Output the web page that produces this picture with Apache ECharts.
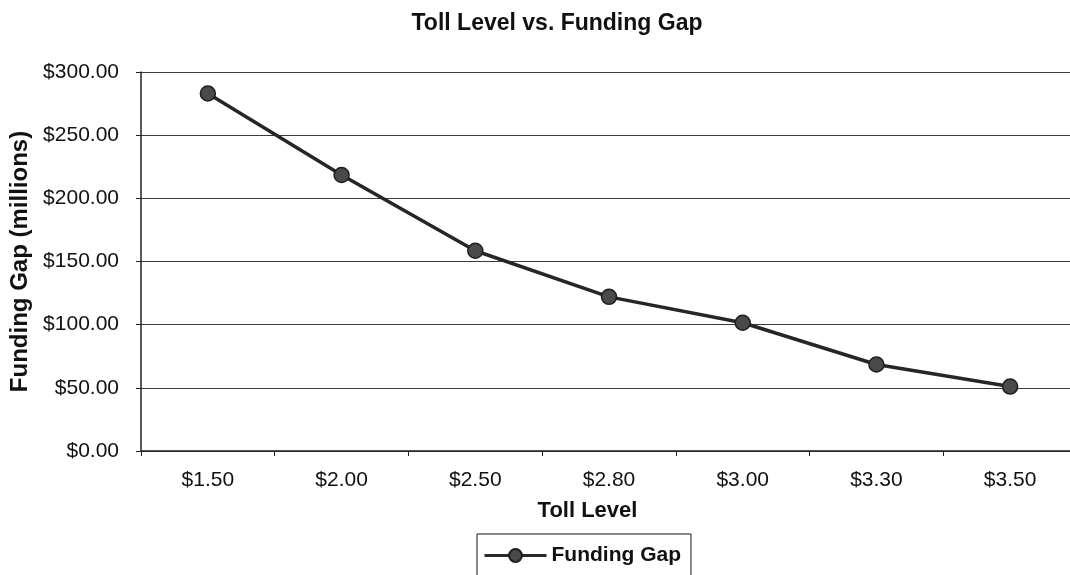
<!DOCTYPE html>
<html>
<head>
<meta charset="utf-8">
<title>Toll Level vs. Funding Gap</title>
<script src="https://cdn.jsdelivr.net/npm/echarts@6/dist/echarts.min.js"></script>
<style>
  html, body { margin: 0; padding: 0; background: #fff; }
  #chart { width: 1070px; height: 575px; }
</style>
</head>
<body>
<div id="chart"></div>
<script>
// Toll levels (category axis)
const tollLevels = ['$1.50', '$2.00', '$2.50', '$2.80', '$3.00', '$3.30', '$3.50'];
// Funding gap in millions of dollars at each toll level
const fundingGap = [283, 218.5, 158.5, 122, 101.5, 68.5, 51];
// Value axis range
const yMin = 0, yMax = 300, yStep = 50;

const FONT = '"Liberation Sans", Arial, Helvetica, sans-serif';

const chart = echarts.init(document.getElementById('chart'), null, { renderer: 'canvas' });

chart.setOption({
  animation: false,
  backgroundColor: '#ffffff',
  title: {
    text: 'Toll Level vs. Funding Gap',
    left: 552,
    textAlign: 'center',
    top: 7,
    textStyle: { fontFamily: FONT, fontSize: 23, fontWeight: 'bold', color: '#111' }
  },
  legend: {
    data: ['Funding Gap'],
    left: 477,
    top: 534,
    orient: 'horizontal',
    padding: [11, 10, 14, 6],
    borderColor: '#111',
    borderWidth: 1,
    itemWidth: 62,
    itemHeight: 16,
    lineStyle: { width: 3, color: '#2a2a2a' },
    textStyle: { fontFamily: FONT, fontSize: 21, fontWeight: 'bold', color: '#111' }
  },
  grid: { left: 141, top: 72, width: 936, height: 379, containLabel: false, outerBoundsMode: 'none' },
  xAxis: {
    type: 'category',
    data: tollLevels,
    boundaryGap: true,
    name: 'Toll Level',
    nameLocation: 'middle',
    nameGap: 49,
    nameTextStyle: { fontFamily: FONT, fontSize: 22, fontWeight: 'bold', color: '#111', padding: [0, 43, 0, 0] },
    axisLine: { show: true, lineStyle: { color: '#222', width: 1.5 } },
    axisTick: { show: true, alignWithLabel: false, length: 5, interval: 0, lineStyle: { color: '#222', width: 1 } },
    axisLabel: { fontFamily: FONT, fontSize: 21, color: '#111', margin: 19, interval: 0 },
    splitLine: { show: false }
  },
  yAxis: {
    type: 'value',
    min: yMin,
    max: yMax,
    interval: yStep,
    name: 'Funding Gap (millions)',
    nameLocation: 'middle',
    nameGap: 109,
    nameRotate: 90,
    nameTextStyle: { fontFamily: FONT, fontSize: 24, fontWeight: 'bold', color: '#111' },
    axisLine: { show: true, lineStyle: { color: '#222', width: 1.5 } },
    axisTick: { show: true, length: 5, lineStyle: { color: '#222', width: 1 } },
    axisLabel: {
      fontFamily: FONT, fontSize: 21, color: '#111', margin: 22,
      formatter: v => '$' + v.toFixed(2)
    },
    splitLine: { show: true, lineStyle: { color: '#3a3a3a', width: 1.2 } }
  },
  series: [{
    name: 'Funding Gap',
    type: 'line',
    data: fundingGap,
    symbol: 'circle',
    symbolSize: 15,
    lineStyle: { color: '#262626', width: 3.5 },
    itemStyle: { color: '#4a4a4a', borderColor: '#1e1e1e', borderWidth: 1.5 },
    emphasis: { disabled: true }
  }]
});
</script>
</body>
</html>
